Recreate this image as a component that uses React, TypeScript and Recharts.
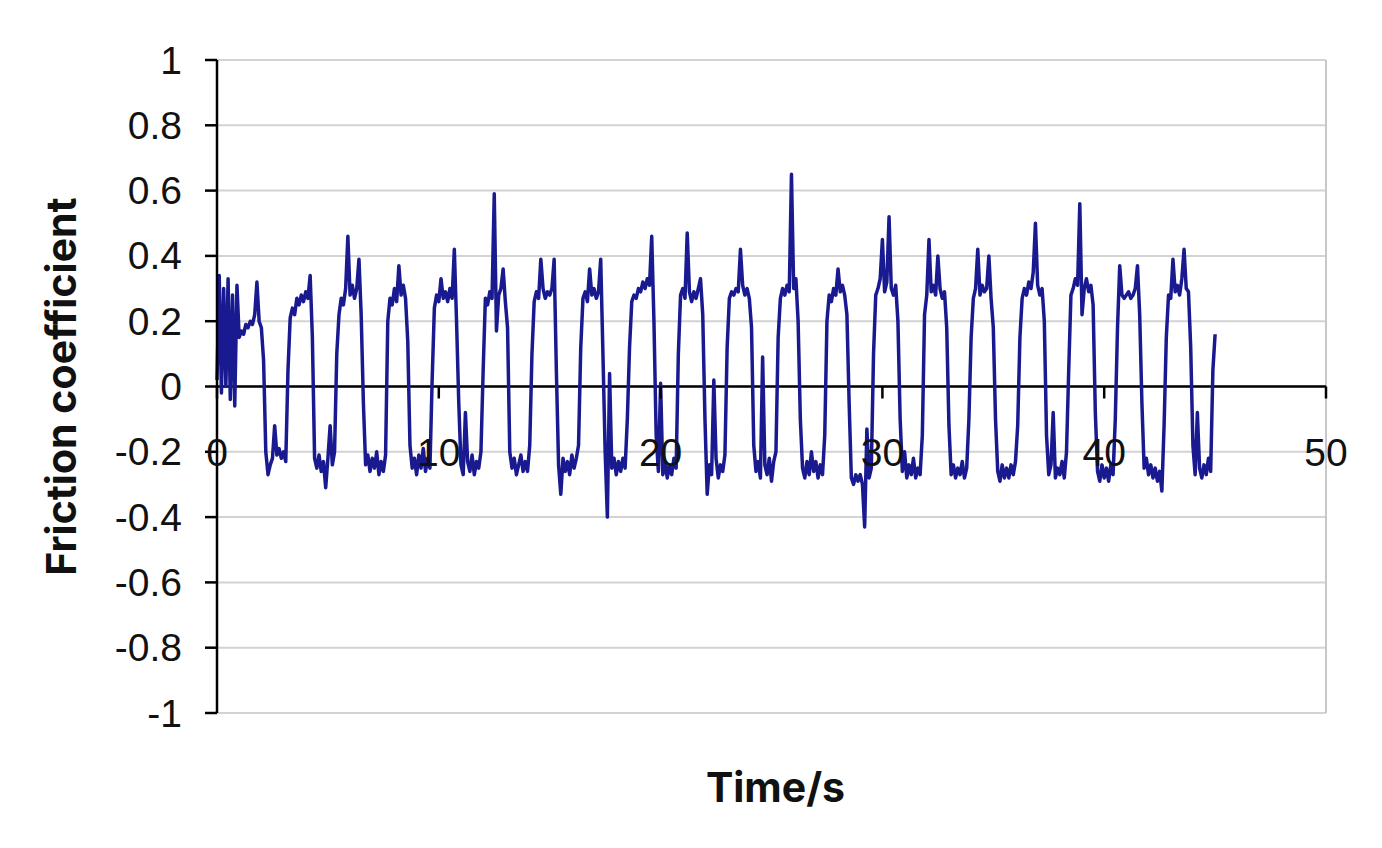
import React from 'react';
import { LineChart, Line, XAxis, YAxis, CartesianGrid, ReferenceLine } from 'recharts';

const TIME_STEP = 0.1;
const frictionValues: number[] = [
  // 0 s
  0.02, 0.34, -0.02, 0.30, 0.00, 0.33, -0.04, 0.28, -0.06, 0.31,
  // 1 s
  0.15, 0.17, 0.16, 0.19, 0.18, 0.20, 0.19, 0.22, 0.32, 0.20,
  // 2 s
  0.18, 0.08, -0.20, -0.27, -0.24, -0.22, -0.12, -0.21, -0.19, -0.22,
  // 3 s
  -0.20, -0.23, 0.05, 0.21, 0.24, 0.22, 0.27, 0.25, 0.28, 0.26,
  // 4 s
  0.29, 0.27, 0.34, 0.15, -0.22, -0.25, -0.21, -0.26, -0.23, -0.31,
  // 5 s
  -0.22, -0.12, -0.24, -0.20, 0.10, 0.22, 0.27, 0.25, 0.30, 0.46,
  // 6 s
  0.28, 0.31, 0.27, 0.30, 0.39, 0.22, -0.05, -0.24, -0.21, -0.26,
  // 7 s
  -0.22, -0.25, -0.20, -0.27, -0.23, -0.26, -0.21, 0.20, 0.27, 0.25,
  // 8 s
  0.30, 0.26, 0.37, 0.28, 0.31, 0.27, 0.14, -0.18, -0.25, -0.22,
  // 9 s
  -0.27, -0.21, -0.25, -0.19, -0.26, -0.22, -0.25, 0.02, 0.24, 0.28,
  // 10 s
  0.26, 0.33, 0.27, 0.29, 0.26, 0.30, 0.27, 0.42, 0.20, -0.05,
  // 11 s
  -0.24, -0.27, -0.08, -0.23, -0.26, -0.21, -0.27, -0.23, -0.25, -0.20,
  // 12 s
  0.05, 0.27, 0.25, 0.29, 0.27, 0.59, 0.17, 0.28, 0.30, 0.36,
  // 13 s
  0.26, 0.18, -0.20, -0.25, -0.22, -0.27, -0.24, -0.21, -0.26, -0.23,
  // 14 s
  -0.26, -0.18, 0.10, 0.26, 0.29, 0.27, 0.39, 0.30, 0.27, 0.29,
  // 15 s
  0.28, 0.30, 0.39, 0.05, -0.24, -0.33, -0.22, -0.26, -0.23, -0.27,
  // 16 s
  -0.21, -0.25, -0.22, -0.18, 0.12, 0.27, 0.29, 0.26, 0.36, 0.28,
  // 17 s
  0.30, 0.27, 0.29, 0.39, 0.10, -0.20, -0.40, 0.04, -0.25, -0.22,
  // 18 s
  -0.27, -0.23, -0.26, -0.22, -0.25, -0.10, 0.12, 0.26, 0.28, 0.27,
  // 19 s
  0.30, 0.29, 0.32, 0.30, 0.33, 0.31, 0.46, 0.20, -0.15, -0.26,
  // 20 s
  0.01, -0.27, -0.23, -0.28, -0.24, -0.27, -0.22, -0.25, 0.10, 0.28,
  // 21 s
  0.30, 0.27, 0.47, 0.29, 0.26, 0.29, 0.27, 0.30, 0.33, 0.22,
  // 22 s
  -0.10, -0.33, -0.24, -0.27, 0.02, -0.22, -0.28, -0.24, -0.26, -0.21,
  // 23 s
  0.12, 0.27, 0.29, 0.28, 0.30, 0.29, 0.42, 0.31, 0.28, 0.30,
  // 24 s
  0.27, 0.18, -0.18, -0.26, -0.23, -0.28, 0.09, -0.24, -0.27, -0.22,
  // 25 s
  -0.29, -0.23, -0.20, 0.15, 0.27, 0.30, 0.28, 0.31, 0.29, 0.65,
  // 26 s
  0.30, 0.33, 0.20, -0.10, -0.25, -0.28, -0.23, -0.27, -0.20, -0.26,
  // 27 s
  -0.23, -0.28, -0.24, -0.27, -0.15, 0.20, 0.28, 0.26, 0.30, 0.28,
  // 28 s
  0.36, 0.29, 0.31, 0.28, 0.22, -0.05, -0.28, -0.30, -0.27, -0.29,
  // 29 s
  -0.27, -0.30, -0.43, -0.13, -0.28, -0.25, 0.10, 0.28, 0.30, 0.33,
  // 30 s
  0.45, 0.29, 0.32, 0.52, 0.30, 0.28, 0.31, 0.20, -0.10, -0.26,
  // 31 s
  -0.20, -0.28, -0.24, -0.27, -0.22, -0.28, -0.25, -0.27, -0.15, 0.22,
  // 32 s
  0.28, 0.45, 0.29, 0.31, 0.28, 0.40, 0.30, 0.27, 0.29, 0.18,
  // 33 s
  -0.12, -0.27, -0.24, -0.28, -0.25, -0.27, -0.23, -0.28, -0.25, -0.10,
  // 34 s
  0.15, 0.27, 0.30, 0.42, 0.28, 0.31, 0.29, 0.30, 0.40, 0.27,
  // 35 s
  0.18, -0.10, -0.26, -0.29, -0.24, -0.28, -0.25, -0.28, -0.24, -0.27,
  // 36 s
  -0.23, -0.12, 0.15, 0.27, 0.30, 0.28, 0.32, 0.30, 0.35, 0.50,
  // 37 s
  0.31, 0.28, 0.30, 0.20, -0.15, -0.27, -0.24, -0.08, -0.28, -0.25,
  // 38 s
  -0.27, -0.23, -0.28, -0.20, 0.05, 0.28, 0.30, 0.33, 0.31, 0.56,
  // 39 s
  0.22, 0.30, 0.33, 0.29, 0.31, 0.25, -0.08, -0.26, -0.29, -0.24,
  // 40 s
  -0.28, -0.25, -0.29, -0.24, -0.27, -0.10, 0.18, 0.37, 0.28, 0.27,
  // 41 s
  0.28, 0.29, 0.27, 0.28, 0.30, 0.37, 0.22, -0.05, -0.25, -0.22,
  // 42 s
  -0.27, -0.24, -0.28, -0.25, -0.29, -0.26, -0.32, -0.12, 0.15, 0.28,
  // 43 s
  0.27, 0.39, 0.29, 0.31, 0.28, 0.33, 0.42, 0.30, 0.29, 0.12,
  // 44 s
  -0.18, -0.27, -0.08, -0.25, -0.28, -0.24, -0.27, -0.22, -0.26, 0.05,
  // 45 s
  0.16,
];

const xTicks = [0, 10, 20, 30, 40, 50];
const yTicks = [-1, -0.8, -0.6, -0.4, -0.2, 0, 0.2, 0.4, 0.6, 0.8, 1];
const yTickLabels = ['-1', '-0.8', '-0.6', '-0.4', '-0.2', '0', '0.2', '0.4', '0.6', '0.8', '1'];
const xTitle = 'Time/s';
const yTitle = 'Friction coefficient';

const data = frictionValues.map((v, i) => ({
  time: Math.round(i * TIME_STEP * 10) / 10,
  friction: v,
}));

const WIDTH = 1382;
const HEIGHT = 848;
const MARGIN = { top: 60, right: 56, bottom: 105, left: 0 };
const X_AXIS_HEIGHT = 30;
const PLOT_HEIGHT = HEIGHT - MARGIN.top - MARGIN.bottom - X_AXIS_HEIGHT;
const Y_MIN = -1;
const Y_MAX = 1;
const ZERO_Y = MARGIN.top + (PLOT_HEIGHT * (Y_MAX - 0)) / (Y_MAX - Y_MIN);

const TICK_FONT = '"Liberation Sans", Arial, sans-serif';
const TITLE_FONT = 'Inter, "Noto Sans", sans-serif';

const XTick = (props: any) => {
  const { x, payload } = props;
  return (
    <g>
      <line x1={x} x2={x} y1={ZERO_Y} y2={ZERO_Y + 12} stroke="#000" strokeWidth={2.5} />
      <text
        x={x}
        y={ZERO_Y + 66}
        textAnchor="middle"
        dominantBaseline="central"
        fontFamily={TICK_FONT}
        fontSize={39}
        fill="#111"
      >
        {payload.value}
      </text>
    </g>
  );
};

const YTick = (props: any) => {
  const { x, y, payload } = props;
  const idx = yTicks.findIndex((t) => Math.abs(t - payload.value) < 1e-9);
  return (
    <text
      x={x + 2}
      y={y}
      textAnchor="end"
      dominantBaseline="central"
      fontFamily={TICK_FONT}
      fontSize={39}
      fill="#111"
    >
      {idx >= 0 ? yTickLabels[idx] : payload.value}
    </text>
  );
};

const YTitle = (props: any) => {
  const vb = props.viewBox || { x: 0, y: 0, width: 0, height: 0 };
  const cx = vb.x + 61;
  const cy = vb.y + vb.height / 2;
  return (
    <text
      x={cx}
      y={cy}
      transform={`rotate(-90 ${cx} ${cy})`}
      textAnchor="middle"
      dominantBaseline="central"
      fontFamily={TITLE_FONT}
      fontWeight={700}
      fontSize={41}
      fill="#111"
    >
      {yTitle}
    </text>
  );
};

const XTitle = (props: any) => {
  const vb = props.viewBox || { x: 0, y: 0, width: 0, height: 0 };
  const cx = vb.x + vb.width / 2 + 4;
  const cy = MARGIN.top + PLOT_HEIGHT + 74;
  return (
    <text
      x={cx}
      y={cy}
      textAnchor="middle"
      dominantBaseline="central"
      fontFamily={TITLE_FONT}
      fontWeight={700}
      fontSize={41}
      fill="#111"
    >
      {xTitle}
    </text>
  );
};

export default function App() {
  return (
    <div style={{ position: 'absolute', left: 0, top: 0, width: WIDTH, height: HEIGHT, background: '#fff' }}>
      <LineChart width={WIDTH} height={HEIGHT} data={data} margin={MARGIN}>
        <CartesianGrid vertical={false} stroke="#d3d3d3" strokeWidth={2} />
        <XAxis
          dataKey="time"
          type="number"
          domain={[0, 50]}
          ticks={xTicks}
          interval={0}
          height={X_AXIS_HEIGHT}
          axisLine={false}
          tickLine={false}
          tick={<XTick />}
          label={<XTitle />}
        />
        <YAxis
          type="number"
          domain={[Y_MIN, Y_MAX]}
          ticks={yTicks}
          interval={0}
          width={217}
          axisLine={{ stroke: '#000', strokeWidth: 2.5 }}
          tickLine={{ stroke: '#000', strokeWidth: 2.5 }}
          tickSize={12}
          tickMargin={25}
          tick={<YTick />}
          label={<YTitle />}
        />
        <ReferenceLine x={50} stroke="#c8c8c8" strokeWidth={2} />
        <ReferenceLine y={0} stroke="#000" strokeWidth={2.5} />
        <Line
          type="linear"
          dataKey="friction"
          stroke="#1a1a90"
          strokeWidth={3.5}
          strokeLinejoin="round"
          dot={false}
          isAnimationActive={false}
        />
      </LineChart>
    </div>
  );
}
